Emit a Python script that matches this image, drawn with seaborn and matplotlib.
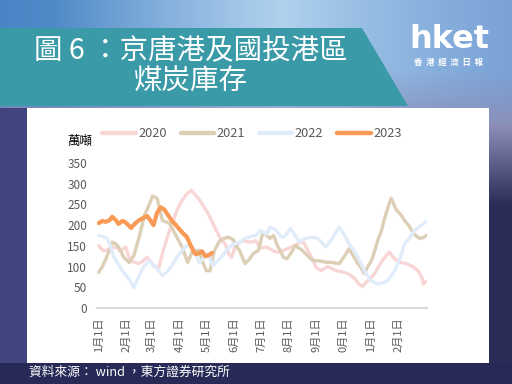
import numpy as np
import pandas as pd
import matplotlib
matplotlib.use('Agg')
import matplotlib.pyplot as plt
import seaborn as sns
from matplotlib.patches import Rectangle, Polygon

# day of year / stock (萬噸)
days_2020 = [0, 5, 10, 15, 19, 24, 30, 35, 40, 45, 50, 54, 58, 62, 67, 72, 77, 82, 87, 93,
             98, 103, 108, 112, 117, 122, 127, 131, 137, 141, 145, 148, 152, 157, 161, 166, 171, 175, 180, 187,
             193, 199, 205, 210, 215, 219, 224, 228, 233, 238, 243, 248, 255, 260, 265, 270, 275, 280, 285, 290,
             294, 298, 303, 308, 312, 318, 324, 330, 336, 341, 345, 350, 356, 360, 362, 365]
vals_2020 = [150, 138, 140, 145, 148, 138, 147, 115, 110, 107, 115, 122, 112, 100, 98, 140, 175, 205, 235, 260,
             275, 284, 272, 262, 245, 228, 205, 187, 163, 155, 130, 122, 147, 158, 163, 160, 159, 163, 145, 147,
             140, 134, 138, 143, 148, 151, 158, 160, 140, 118, 96, 90, 100, 95, 90, 88, 85, 80, 72, 58,
             52, 62, 70, 85, 100, 120, 135, 118, 110, 108, 105, 100, 90, 75, 58, 65]

days_2021 = [0, 4, 8, 12, 15, 19, 22, 28, 34, 39, 45, 51, 56, 60, 65, 71, 75, 79, 86, 93,
             99, 105, 112, 116, 120, 124, 129, 135, 140, 144, 150, 154, 157, 163, 168, 172, 178, 183, 187, 191,
             195, 199, 202, 206, 210, 215, 219, 223, 227, 232, 236, 240, 245, 250, 255, 260, 268, 274, 279, 284,
             289, 293, 296, 300, 304, 308, 311, 315, 318, 322, 326, 329, 332, 337, 341, 346, 351, 355, 358, 362, 365]
vals_2021 = [86, 100, 119, 140, 159, 155, 147, 122, 110, 126, 171, 224, 248, 270, 265, 211, 208, 204, 175, 147,
             110, 139, 139, 110, 90, 90, 139, 163, 168, 171, 165, 147, 139, 107, 118, 131, 139, 183, 175, 168,
             175, 151, 140, 122, 119, 135, 151, 145, 139, 128, 119, 114, 114, 112, 110, 110, 107, 125, 143, 125,
             107, 95, 83, 100, 114, 140, 163, 185, 211, 240, 265, 250, 236, 225, 211, 198, 180, 172, 168, 170, 175]

days_2022 = [0, 5, 9, 13, 17, 22, 26, 30, 34, 39, 45, 50, 56, 60, 64, 71, 75, 79, 85, 90,
             98, 105, 112, 117, 122, 127, 133, 138, 142, 148, 152, 157, 163, 169, 175, 180, 187, 191, 197, 202,
             206, 210, 214, 219, 223, 228, 232, 236, 240, 244, 248, 253, 258, 263, 268, 273, 279, 284, 289, 294,
             298, 304, 311, 316, 322, 326, 330, 336, 341, 347, 352, 358, 363, 365]
vals_2022 = [175, 172, 168, 150, 122, 105, 90, 80, 70, 49, 78, 100, 114, 105, 98, 78, 85, 95, 115, 131,
             151, 147, 110, 120, 131, 102, 115, 126, 139, 151, 155, 158, 168, 172, 175, 187, 178, 195, 190, 175,
             170, 180, 192, 175, 160, 165, 168, 171, 170, 168, 160, 147, 160, 178, 195, 180, 155, 140, 122, 100,
             83, 65, 58, 60, 66, 78, 90, 120, 155, 170, 187, 197, 205, 208]

days_2023 = [0, 4, 8, 12, 15, 19, 22, 26, 29, 33, 36, 40, 45, 50, 54, 58, 61, 65, 69, 73,
             77, 81, 86, 90, 94, 98, 101, 105, 108, 112, 115, 119, 123, 126]
vals_2023 = [205, 210, 208, 212, 220, 212, 203, 210, 208, 200, 193, 203, 212, 218, 222, 210, 200, 230, 243, 238,
             225, 212, 200, 190, 180, 172, 158, 140, 130, 132, 137, 125, 128, 133]

years = ['2020', '2021', '2022', '2023']
colors = ['#F9D6D6', '#DCCFB6', '#E1ECFB', '#F89A55']
month_starts = [0, 31, 59, 90, 120, 151, 181, 212, 243, 273, 304, 334]
month_labels = ['1月1日', '2月1日', '3月1日', '4月1日', '5月1日', '6月1日',
                '7月1日', '8月1日', '9月1日', '0月1日', '1月1日', '2月1日']
y_ticks = [0, 50, 100, 150, 200, 250, 300, 350]

df = pd.concat([
    pd.DataFrame({'day': d, 'value': v, 'year': y})
    for d, v, y in zip([days_2020, days_2021, days_2022, days_2023],
                       [vals_2020, vals_2021, vals_2022, vals_2023], years)
])

sns.set_style('white')
plt.rcParams['font.family'] = ['Noto Sans CJK TC', 'DejaVu Sans']

W, H = 512, 384
fig = plt.figure(figsize=(W / 100, H / 100), dpi=100)

# background (pixel coordinates)
bg = fig.add_axes([0, 0, 1, 1])
bg.set_xlim(0, W)
bg.set_ylim(H, 0)
bg.axis('off')

yy, xx = np.mgrid[0:H, 0:W]
img = np.zeros((H, W, 3))
navy = np.array([0x2A, 0x2C, 0x58]) / 255
img[:] = navy
# sky band at the top
t = xx / W
sky_left = np.array([0x4A, 0x86, 0xC6]) / 255
sky_mid = np.array([0xB0, 0xD2, 0xEE]) / 255
sky_right = np.array([0x7A, 0xA2, 0xD6]) / 255
w_mid = np.clip(1 - np.abs(t - 0.55) / 0.45, 0, 1)[..., None]
sky = sky_left * (1 - t[..., None]) + sky_right * t[..., None]
sky = sky * (1 - w_mid) + sky_mid * w_mid
fade = np.clip((yy - 70) / 60, 0, 1)[..., None]
purple = np.array([0x8C, 0x8E, 0xB8]) / 255
sky = sky * (1 - fade) + purple * fade
mask_sky = yy < 125
img[mask_sky] = sky[mask_sky]
img[(yy >= 108) & (xx < 27)] = np.array([0x40, 0x45, 0x80]) / 255
lower = (yy >= 125)
fade2 = np.clip((yy - 125) / 80, 0, 1)[..., None]
mix = purple * (1 - fade2) + navy * fade2
sel = lower & (xx >= 489)
img[sel] = mix[sel]
img[yy >= 363] = np.array([0x27, 0x2A, 0x56]) / 255
bg.imshow(img, extent=(0, W, H, 0), aspect='auto', zorder=0)

bg.add_patch(Rectangle((27, 108), 462, 255, facecolor='white', edgecolor='none', zorder=1))
bg.add_patch(Polygon([(0, 28), (362, 28), (408, 106), (0, 106)], closed=True,
                     facecolor='#3A9AA8', edgecolor='none', zorder=2))
bg.text(191, 51, '圖 6 ：京唐港及國投港區', color='white', fontsize=20.5,
        ha='center', va='center', zorder=3)
bg.text(191, 82, '煤炭庫存', color='white', fontsize=20.5,
        ha='center', va='center', zorder=3)
bg.text(449, 40, 'hket', color='white', fontsize=23, fontweight='bold',
        ha='center', va='center', family=['DejaVu Sans'], zorder=3)
bg.text(449, 62, '香  港  經  濟  日  報', color='white', fontsize=6, fontweight='bold',
        ha='center', va='center', zorder=3)
bg.text(29, 372, '資料來源： wind ，東方證券研究所', color='white', fontsize=9.2,
        ha='left', va='center', zorder=3)
bg.text(80, 141, '萬噸', color='black', fontsize=9, ha='center', va='center', zorder=3)

# main chart
ax = fig.add_axes([97 / W, (H - 308) / H, 330 / W, 145 / H])
ax.set_facecolor('none')
sns.lineplot(data=df, x='day', y='value', hue='year', palette=dict(zip(years, colors)),
             hue_order=years, estimator=None, sort=False, ax=ax, linewidth=2.4)
for line, y in zip(ax.get_lines(), years):
    if y == '2023':
        line.set_linewidth(3.0)
        line.set_zorder(5)

ax.set_xlim(-2, 366)
ax.set_ylim(0, 350)
ax.set_xticks(month_starts)
ax.set_xticklabels(month_labels, rotation=90, fontsize=8, color='#595959')
ax.set_yticks(y_ticks)
ax.set_yticklabels([str(v) for v in y_ticks], fontsize=8.5, color='#595959')
ax.tick_params(axis='y', length=0, pad=7)
ax.tick_params(axis='x', length=3, width=1, color='#D9D9D9', pad=4, direction='out')
ax.set_xlabel('')
ax.set_ylabel('')
for s in ['top', 'right', 'left']:
    ax.spines[s].set_visible(False)
ax.spines['bottom'].set_color('#D9D9D9')
ax.spines['bottom'].set_linewidth(1.5)

ax.get_legend().remove()
handles = ax.get_lines()[:4]
leg = fig.legend(handles, years, loc='center', bbox_to_anchor=(252 / W, (H - 134) / H),
                 ncol=4, frameon=False, fontsize=9.2, handlelength=2.6,
                 handletextpad=0.2, columnspacing=1.1)
for txt in leg.get_texts():
    txt.set_color('#595959')
for lh, c in zip(leg.get_lines(), colors):
    lh.set_linewidth(3.2)

fig.savefig('out.png', dpi=100)
